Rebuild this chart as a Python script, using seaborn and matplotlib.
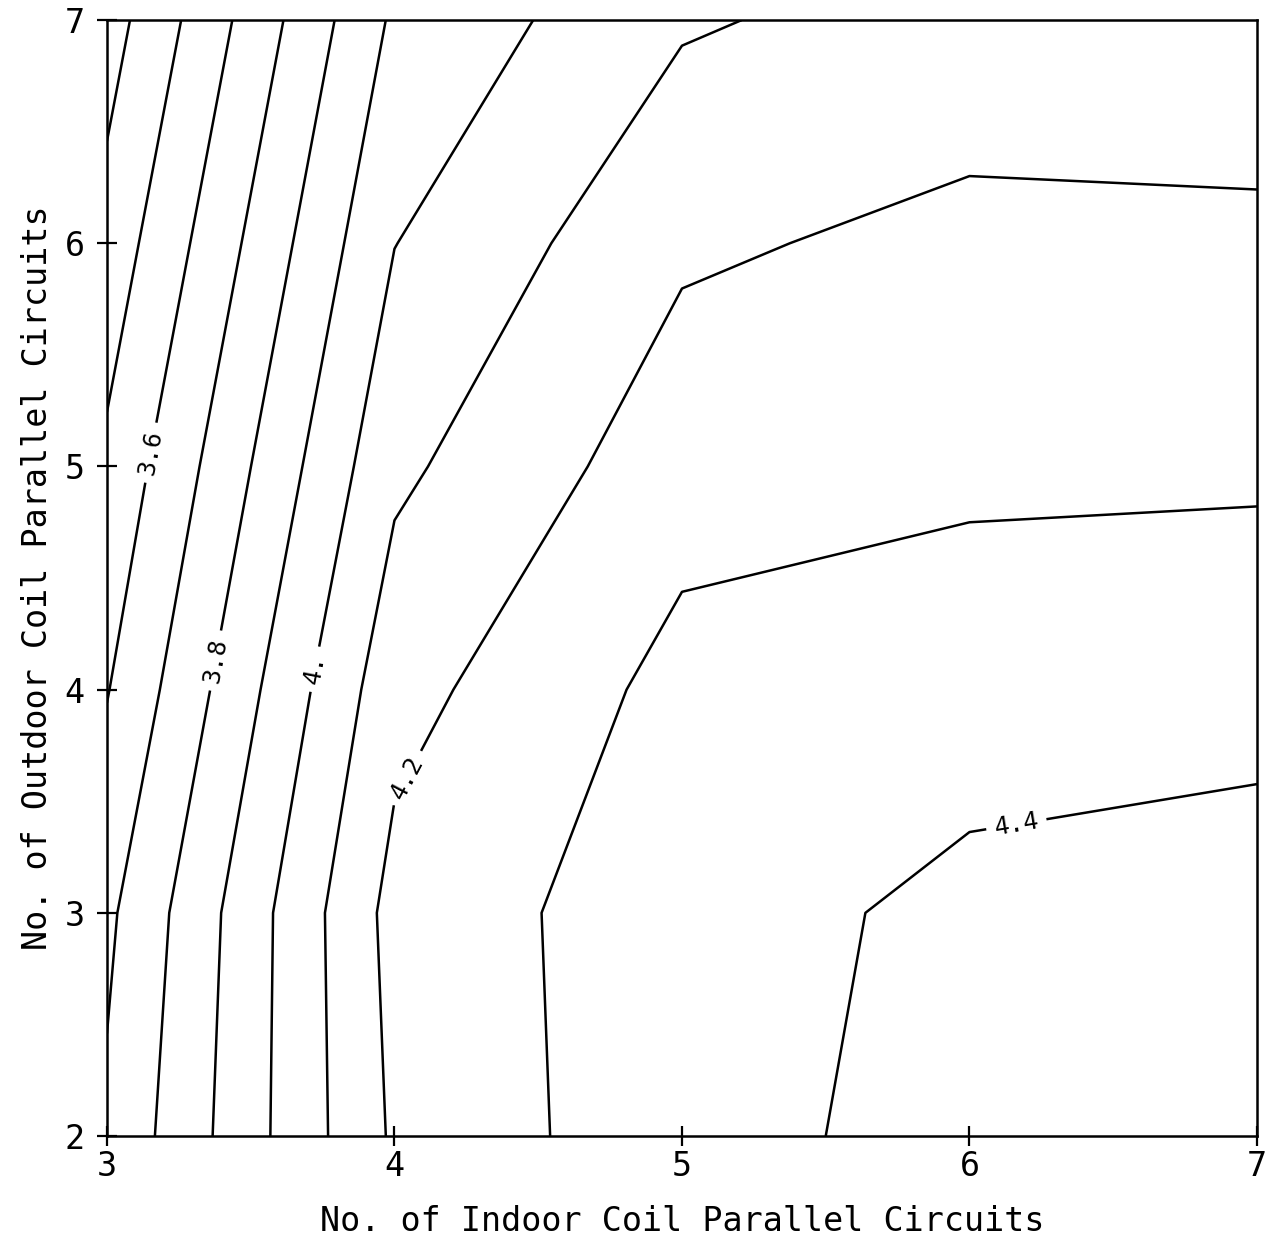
import matplotlib
matplotlib.use("Agg")
import numpy as np
import pandas as pd
import seaborn as sns
import matplotlib.pyplot as plt

# Grid of design points
indoor_circuits = [3, 4, 5, 6, 7]
outdoor_circuits = [2, 3, 4, 5, 6, 7]

# Performance value at each indoor-circuit count, one list per outdoor-circuit count
perf_outdoor_2 = [3.717, 4.215, 4.372, 4.428, 4.450]
perf_outdoor_3 = [3.680, 4.234, 4.363, 4.421, 4.430]
perf_outdoor_4 = [3.595, 4.166, 4.332, 4.363, 4.378]
perf_outdoor_5 = [3.520, 4.079, 4.259, 4.279, 4.283]
perf_outdoor_6 = [3.438, 3.998, 4.185, 4.225, 4.220]
perf_outdoor_7 = [3.355, 3.917, 4.089, 4.142, 4.137]

contour_levels = [3.4, 3.5, 3.6, 3.7, 3.8, 3.9, 4.0, 4.1, 4.2, 4.3, 4.4]
level_text = {3.6: "3.6", 3.8: "3.8", 4.0: "4.", 4.2: "4.2", 4.4: "4.4"}
# label anchor points on the 3.6, 3.8, 4.0, 4.2 and 4.4 lines
label_spots = [(3.16, 5.06), (3.38, 4.13), (3.73, 4.09), (4.05, 3.60), (6.16, 3.42)]

rows = [perf_outdoor_2, perf_outdoor_3, perf_outdoor_4,
        perf_outdoor_5, perf_outdoor_6, perf_outdoor_7]
grid = pd.DataFrame(rows, index=outdoor_circuits, columns=indoor_circuits)

sns.set_theme(style="ticks")
plt.rcParams["font.family"] = ["DejaVu Sans Mono"]
plt.rcParams.update({
    "text.color": "black",
    "axes.labelcolor": "black",
    "axes.edgecolor": "black",
    "xtick.color": "black",
    "ytick.color": "black",
})

fig = plt.figure(figsize=(12.72, 12.48), dpi=100)
ax = fig.add_axes([0.0841, 0.0897, 0.9041, 0.8942])

X, Y = np.meshgrid(grid.columns.values, grid.index.values)
cs = ax.contour(X, Y, grid.values, levels=contour_levels,
                colors="black", linewidths=1.8)
ax.clabel(cs, fmt=lambda v: level_text.get(round(v, 1), f"{v:.1f}"),
          manual=label_spots, inline=True, inline_spacing=8, fontsize=18)

ax.set_xlim(3, 7)
ax.set_ylim(2, 7)
ax.set_xticks(indoor_circuits)
ax.set_yticks(outdoor_circuits)
ax.tick_params(direction="inout", length=14, width=1.6, labelsize=24)
ax.tick_params(axis="x", pad=3)
ax.tick_params(axis="y", pad=9)
for sp in ax.spines.values():
    sp.set_linewidth(1.8)
    sp.set_visible(True)

ax.set_xlabel("No. of Indoor Coil Parallel Circuits", fontsize=24, labelpad=16)
ax.set_ylabel("No. of Outdoor Coil Parallel Circuits", fontsize=24, labelpad=8)

fig.savefig("out.png", dpi=100, facecolor="white")
